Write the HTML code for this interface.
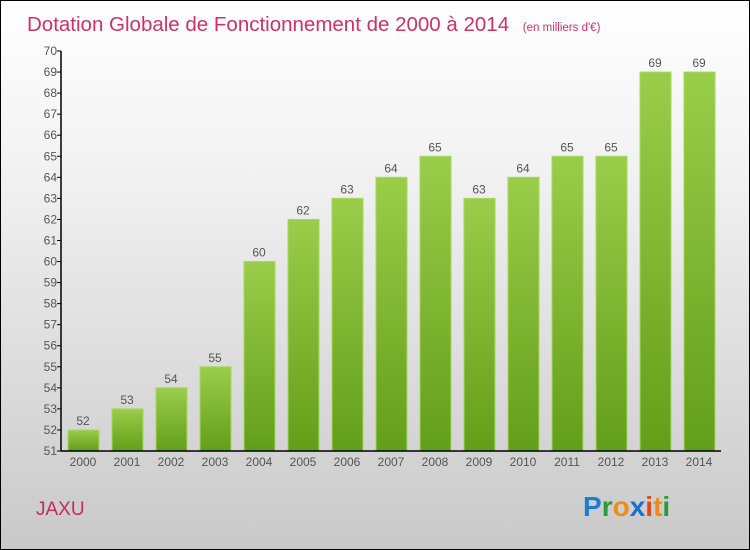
<!DOCTYPE html>
<html><head><meta charset="utf-8"><style>
body{margin:0}
#c{width:748px;height:548px;border:1px solid #000;background:linear-gradient(#fff,#f2f2f2 30%,#c9c9c9);position:relative;overflow:hidden;font-family:"Liberation Sans",sans-serif}
svg{position:absolute;left:0;top:0}
</style></head><body>
<div id="c">
<svg width="748" height="548" id="s">
<defs><linearGradient id="g" x1="0" y1="0" x2="0" y2="1"><stop offset="0" stop-color="#9acd4a"/><stop offset="1" stop-color="#639e1a"/></linearGradient></defs>
<text x="26" y="30" font-size="20.5" fill="#d0306a">Dotation Globale de Fonctionnement de 2000 à 2014 <tspan font-size="11.5" dx="8">(en milliers d'€)</tspan></text>
<text x="35" y="514" font-size="19" fill="#c8295e">JAXU</text>
<text x="582" y="515" font-size="28" font-weight="bold" font-family="Liberation Sans"><tspan fill="#1a7fd0">P</tspan><tspan fill="#2a9a3a">r</tspan><tspan fill="#f08a1a">o</tspan><tspan fill="#1a6fd0">x</tspan><tspan fill="#e04a1a">i</tspan><tspan fill="#f08a1a">t</tspan><tspan fill="#2a9a3a">i</tspan></text>
</svg>
</div>
<script>
const categories=["2000","2001","2002","2003","2004","2005","2006","2007","2008","2009","2010","2011","2012","2013","2014"];
const values=[52,53,54,55,60,62,63,64,65,63,64,65,65,69,69];
const yTicks=[51,52,53,54,55,56,57,58,59,60,61,62,63,64,65,66,67,68,69,70];
const s=document.getElementById('s');const NS='http://www.w3.org/2000/svg';
const y0=450,y1=50,vmin=51,vmax=70;
const ys=v=>y0-(v-vmin)/(vmax-vmin)*(y0-y1);
const xs=i=>82+i*44;
function mk(t,a){const e=document.createElementNS(NS,t);for(const k in a)e.setAttribute(k,a[k]);s.appendChild(e);return e;}
values.forEach((v,i)=>{
const r=mk('rect',{x:xs(i)-15,y:ys(v),width:31,height:y0-ys(v),fill:'url(#g)',stroke:'#a6d95a','stroke-width':1});


const t=mk('text',{x:xs(i),y:ys(v)-5,'font-size':12,fill:'#555','text-anchor':'middle'});t.textContent=v;


const c=mk('text',{x:xs(i),y:465,'font-size':12,fill:'#555','text-anchor':'middle'});c.textContent=categories[i];


});
yTicks.forEach(v=>{
const l=mk('line',{x1:56,x2:60,y1:ys(v),y2:ys(v),stroke:'#000'});


const t=mk('text',{x:56,y:ys(v)+4,'font-size':12,fill:'#555','text-anchor':'end'});t.textContent=v;


});
const ya=mk('line',{x1:60,x2:60,y1:y1,y2:y0,stroke:'#000','stroke-width':1.5});


const xa=mk('line',{x1:60,x2:720,y1:y0,y2:y0,stroke:'#000','stroke-width':1.5});


</script>
</body></html>
